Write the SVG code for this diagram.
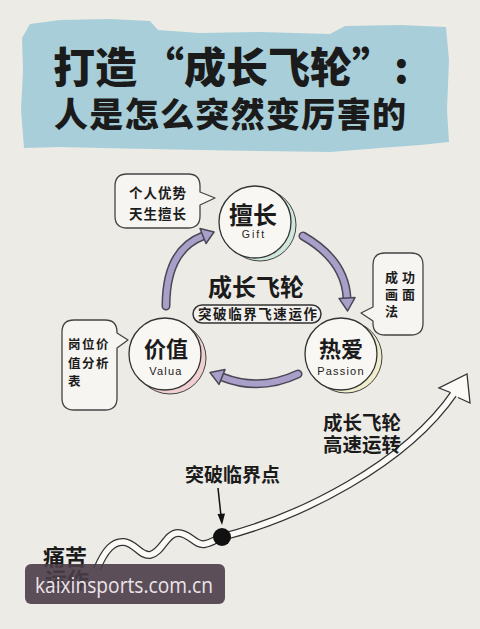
<svg xmlns="http://www.w3.org/2000/svg" width="480" height="629" viewBox="0 0 480 629">
<style>
.cjk{font-family:"Noto Sans CJK SC","Noto Sans",sans-serif;fill:#1b1b1b}
.b{font-weight:700}
.h{font-weight:900}
.nc{fill:#f8f7f3;stroke:#333;stroke-width:1.3}
.bub{fill:#f6f5f1;stroke:#444;stroke-width:1.3;stroke-linejoin:round}
.en{font-family:"Liberation Sans","DejaVu Sans",sans-serif;fill:#222}
.ao{fill:none;stroke:#4a4856;stroke-width:9;stroke-linecap:round}
.ai{fill:none;stroke:#aa9fc8;stroke-width:6;stroke-linecap:round}
.ah{fill:#aa9fc8;stroke:#4a4856;stroke-width:1.5;stroke-linejoin:round}
.to{fill:none;stroke:#333;stroke-width:8}
.ti{fill:none;stroke:#fbfaf7;stroke-width:5.5}
</style>
<rect width="480" height="629" fill="#edebe6"/>

<g id="title">
<path d="M22,38 L30,24 L60,20 L110,19 L150,21 L158,30 L200,33 L260,32 L330,34 L345,26 L400,25 L446,27 L449,60 L447,110 L449,142 L420,145 L380,148 L330,152 L260,151 L200,150 L150,149 L100,148 L60,147 L24,148 L21,110 L23,70 Z" fill="#a8cfd9"/>
<text class="cjk h" font-size="42" y="83"><tspan x="53">打造</tspan><tspan x="142">“成长飞轮”:</tspan></text>
<text class="cjk h" font-size="34" x="54" y="127" textLength="352" lengthAdjust="spacing">人是怎么突然变厉害的</text>
</g>

<g id="connectors">
<path class="ao" d="M166,306 Q166,250 203,236"/>
<path class="ai" d="M166,306 Q166,250 203,236"/>
<polygon class="ah" points="214,232 206,243.5 200,228.5"/>
<path class="ao" d="M303,236 Q345,260 347,298"/>
<path class="ai" d="M303,236 Q345,260 347,298"/>
<polygon class="ah" points="347.6,311 355,297.6 339,298.4"/>
<path class="ao" d="M298,374 Q260,392 222,377"/>
<path class="ai" d="M298,374 Q260,392 222,377"/>
<polygon class="ah" points="210,372.5 225,369.6 219,384.4"/>
</g>

<g id="node-gift">
<circle cx="260" cy="225" r="36" fill="#cfe6dc" stroke="#444" stroke-width="1"/>
<circle class="nc" cx="255" cy="222" r="36"/>
<text class="cjk b" font-size="24" x="253" y="224" text-anchor="middle">擅长</text>
<text class="en" font-size="10.5" x="254" y="238" text-anchor="middle" letter-spacing="2">Gift</text>
</g>

<g id="node-passion">
<circle cx="346" cy="357" r="36" fill="#efedcc" stroke="#444" stroke-width="1"/>
<circle class="nc" cx="341" cy="354" r="36"/>
<text class="cjk b" font-size="22" x="341" y="357" text-anchor="middle">热爱</text>
<text class="en" font-size="11" x="341" y="375" text-anchor="middle" letter-spacing="1.2">Passion</text>
</g>

<g id="node-value">
<circle cx="170" cy="358" r="36" fill="#f0cfd0" stroke="#444" stroke-width="1"/>
<circle class="nc" cx="165" cy="354" r="36"/>
<text class="cjk b" font-size="22" x="166" y="357" text-anchor="middle">价值</text>
<text class="en" font-size="11" x="166" y="375" text-anchor="middle" letter-spacing="1.2">Valua</text>
</g>

<g id="center-label">
<text class="cjk b" font-size="24" x="256" y="296" text-anchor="middle">成长飞轮</text>
<rect x="193" y="305" width="128" height="18" rx="9" fill="#f3f1ed" stroke="#333" stroke-width="1.5"/>
<text class="cjk b" font-size="13.5" x="198" y="319" textLength="119" lengthAdjust="spacing">突破临界飞速运作</text>
</g>

<g id="bubble-gift">
<path class="bub" d="M127,174 H188 Q200,174 200,186 V192 L215,198 L200,205 V216 Q200,228 188,228 H127 Q115,228 115,216 V186 Q115,174 127,174 Z"/>
<text class="cjk b" font-size="13.5" x="129" y="198" letter-spacing="1">个人优势</text>
<text class="cjk b" font-size="13.5" x="129" y="219" letter-spacing="1">天生擅长</text>
</g>

<g id="bubble-passion">
<path class="bub" d="M385,253 H411 Q423,253 423,265 V323 Q423,335 411,335 H385 Q373,335 373,323 V321 L361,313 L373,307 V265 Q373,253 385,253 Z"/>
<text class="cjk b" font-size="13" x="385" y="282" letter-spacing="4">成功</text>
<text class="cjk b" font-size="13" x="385" y="299" letter-spacing="4">画面</text>
<text class="cjk b" font-size="13" x="385" y="316" letter-spacing="4">法</text>
</g>

<g id="bubble-value">
<path class="bub" d="M74,320 H105 Q117,320 117,332 V333 L128,340 L117,348 V398 Q117,410 105,410 H74 Q62,410 62,398 V332 Q62,320 74,320 Z"/>
<text class="cjk b" font-size="12.5" x="68" y="349" letter-spacing="1.5">岗位价</text>
<text class="cjk b" font-size="12.5" x="68" y="368" letter-spacing="1.5">值分析</text>
<text class="cjk b" font-size="12.5" x="68" y="386" letter-spacing="1.5">表</text>
</g>

<g id="growth-curve">
<path class="to" d="M97,569 C105,550 113,541 124,542 C135,543 140,556 150,555 C162,553 166,533 178,533 C190,533 195,546 205,544 C212,543 216,539 222,537 C300,517 405,465 455,392"/>
<path class="ti" d="M97,569 C105,550 113,541 124,542 C135,543 140,556 150,555 C162,553 166,533 178,533 C190,533 195,546 205,544 C212,543 216,539 222,537 C300,517 405,465 455,392"/>
<path d="M450.5,392.5 L439,388 L467,374 L470,403 L458,397.5" fill="#fbfaf7" stroke="#333" stroke-width="1.3" stroke-linejoin="miter"/>
<circle cx="222" cy="537" r="9" fill="#111"/>
</g>

<g id="critical-point">
<text class="cjk b" font-size="19" x="185" y="482">突破临界点</text>
<line x1="218" y1="488" x2="221" y2="516" stroke="#111" stroke-width="1.5"/>
<polygon points="222,525 217.5,514 225,513.5" fill="#111"/>
</g>

<g id="labels">
<text class="cjk b" font-size="19.5" x="323" y="430">成长飞轮</text>
<text class="cjk b" font-size="19.5" x="323" y="452">高速运转</text>
<text class="cjk b" font-size="22" x="43" y="565">痛苦</text>
<text class="cjk b" font-size="22" x="45" y="588">运作</text>
</g>

<g id="watermark">
<rect x="25" y="564" width="200" height="40" rx="6" fill="#4a3d48" fill-opacity="0.9"/>
<text x="35" y="593" font-family="Open Sans, Noto Sans, sans-serif" font-size="21" fill="#ece4ea" textLength="178" lengthAdjust="spacingAndGlyphs">kaixinsports.com.cn</text>
</g>
</svg>
